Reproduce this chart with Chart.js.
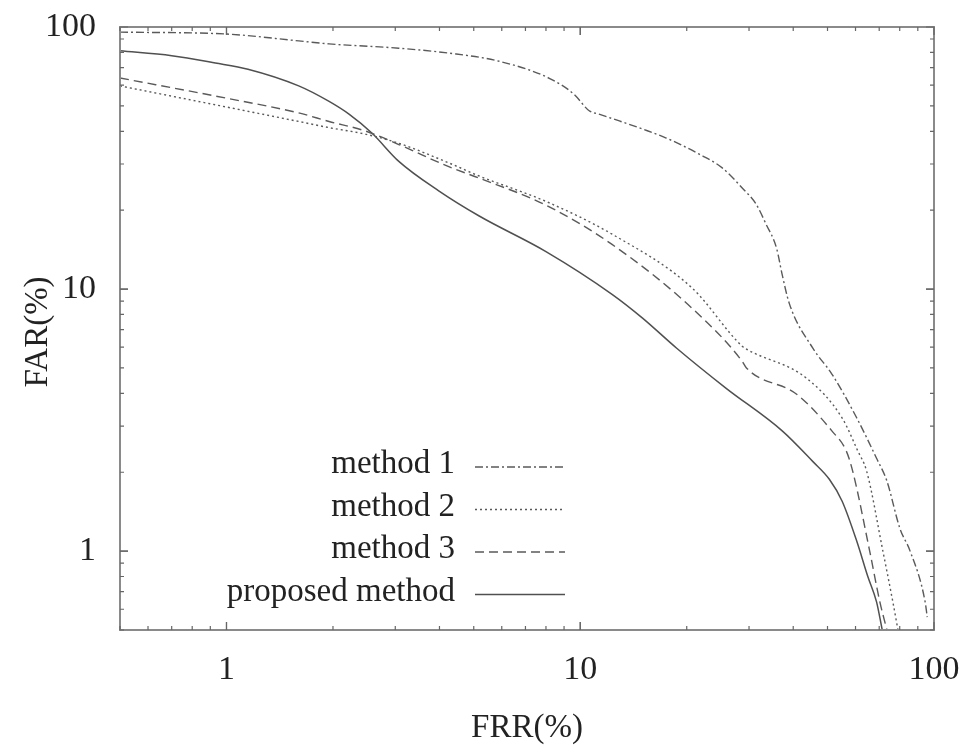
<!DOCTYPE html>
<html>
<head>
<meta charset="utf-8">
<script src="https://cdn.jsdelivr.net/npm/chart.js@4"></script>
<style>
  html, body { margin: 0; padding: 0; background: #fff; }
  #wrap { width: 966px; height: 753px; }
</style>
</head>
<body>
<div id="wrap"><canvas id="myChart" width="966" height="753"></canvas></div>
<script>
// values (FRR %, FAR %)
var m1FRR = [0.5, 1.0, 1.6, 1.95, 3.07, 4.25, 5.9, 8.2, 9.6, 10.6, 11.3, 12.9, 15.0, 17.5, 21.7, 25.2, 28.7, 31.4, 33.5, 35.9, 37.2, 39.0, 45.4, 51.5, 60.5, 68.8, 73.6, 80.1, 85.6, 94.4, 95.7];
var m1FAR = [95.6, 94.0, 88.5, 86.2, 83.0, 79.5, 74.0, 63.6, 55.4, 47.9, 46.5, 43.8, 40.8, 37.7, 32.7, 29.0, 24.3, 21.1, 17.7, 14.3, 11.4, 8.8, 5.96, 4.73, 3.22, 2.26, 1.85, 1.22, 1.0, 0.64, 0.56];

var m2FRR = [0.5, 1.0, 1.6, 1.95, 2.47, 3.07, 4.25, 5.18, 8.0, 12.3, 20.7, 28.7, 29.5, 43.6, 55.0, 60.9, 64.5, 71.7, 76.5, 79.1];
var m2FAR = [59.6, 49.5, 43.6, 41.3, 39.0, 36.0, 30.3, 27.0, 21.6, 16.2, 10.1, 6.05, 5.9, 4.57, 3.22, 2.41, 2.02, 1.0, 0.64, 0.5];

var m3FRR = [0.5, 1.0, 1.6, 1.95, 2.47, 3.07, 4.25, 5.18, 8.0, 12.3, 20.7, 28.7, 29.5, 40.9, 51.5, 56.5, 58.9, 65.8, 70.3, 73.6];
var m3FAR = [63.9, 53.5, 47.0, 43.6, 40.1, 35.6, 29.3, 26.5, 20.9, 14.8, 8.45, 5.3, 5.0, 3.97, 2.87, 2.41, 2.02, 1.0, 0.64, 0.5];

var propFRR = [0.5, 0.7, 0.93, 1.15, 1.6, 1.95, 2.22, 2.58, 3.07, 3.98, 5.18, 8.0, 12.3, 15.0, 18.7, 25.8, 37.3, 45.4, 50.6, 55.0, 60.5, 65.0, 68.8, 71.4];
var propFAR = [81.1, 77.7, 72.9, 69.0, 59.6, 52.0, 46.5, 39.3, 30.7, 23.7, 19.0, 13.9, 9.55, 7.75, 5.96, 4.19, 2.87, 2.2, 1.88, 1.55, 1.09, 0.8, 0.64, 0.5];

var seriesNames = ["method 1", "method 2", "method 3", "proposed method"];
var majorTicks = [1, 10, 100];

function pts(xs, ys) {
  var out = [];
  for (var i = 0; i < xs.length; i++) out.push({x: xs[i], y: ys[i]});
  return out;
}

var lineColor = '#5a5a5a';
var serif = '"Liberation Serif", "DejaVu Serif", serif';

// border, inward ticks, axis titles and legend like the gnuplot original
var framePlugin = {
  id: 'frame',
  afterDatasetsDraw: function(chart) {
    var c = chart.ctx, a = chart.chartArea;
    var xs = chart.scales.x, ys = chart.scales.y;
    c.save();
    c.strokeStyle = '#8a8a8a';
    c.lineWidth = 2;
    c.strokeRect(a.left, a.top, a.right - a.left, a.bottom - a.top);
    c.lineWidth = 1.2;
    c.strokeStyle = '#666';
    var decades = [0.1, 1, 10];
    for (var d = 0; d < decades.length; d++) {
      for (var k = 1; k <= 10; k++) {
        var v = decades[d] * k;
        var len = (k === 1 || k === 10) ? 8 : 4;
        if (v >= 0.5 && v <= 100) {
          var px = xs.getPixelForValue(v);
          c.beginPath();
          c.moveTo(px, a.bottom); c.lineTo(px, a.bottom - len);
          c.moveTo(px, a.top); c.lineTo(px, a.top + len);
          c.stroke();
          var py = ys.getPixelForValue(v);
          c.beginPath();
          c.moveTo(a.left, py); c.lineTo(a.left + len, py);
          c.moveTo(a.right, py); c.lineTo(a.right - len, py);
          c.stroke();
        }
      }
    }
    // titles
    c.fillStyle = '#222';
    c.font = '33px ' + serif;
    c.textAlign = 'center';
    c.textBaseline = 'middle';
    c.fillText('FRR(%)', (a.left + a.right) / 2, 728);
    c.save();
    c.translate(38, 332);
    c.rotate(-Math.PI / 2);
    c.fillText('FAR(%)', 0, 0);
    c.restore();
    // legend
    c.font = '33px ' + serif;
    c.textAlign = 'right';
    c.textBaseline = 'alphabetic';
    var ds = chart.data.datasets;
    for (var i = 0; i < ds.length; i++) {
      var base = 473 + i * 42.5;
      c.fillStyle = '#222';
      c.fillText(ds[i].label, 455, base);
      c.beginPath();
      c.setLineDash(ds[i].borderDash || []);
      c.strokeStyle = ds[i].borderColor;
      c.lineWidth = ds[i].borderWidth;
      c.moveTo(475, base - 6); c.lineTo(565, base - 6);
      c.stroke();
    }
    c.setLineDash([]);
    c.restore();
  }
};

var ctx = document.getElementById('myChart').getContext('2d');
var chart = new Chart(ctx, {
  type: 'line',
  data: {
    datasets: [{
      label: seriesNames[0],
      data: pts(m1FRR, m1FAR),
      borderColor: lineColor, borderWidth: 1.4, borderDash: [8, 3, 2, 3]
    }, {
      label: seriesNames[1],
      data: pts(m2FRR, m2FAR),
      borderColor: lineColor, borderWidth: 1.4, borderDash: [2, 3]
    }, {
      label: seriesNames[2],
      data: pts(m3FRR, m3FAR),
      borderColor: lineColor, borderWidth: 1.4, borderDash: [9, 5]
    }, {
      label: seriesNames[3],
      data: pts(propFRR, propFAR),
      borderColor: '#505050', borderWidth: 1.5
    }]
  },
  options: {
    responsive: false,
    animation: false,
    layout: { padding: { top: 27, right: 32, left: 0, bottom: 0 } },
    elements: {
      point: { radius: 0 },
      line: { cubicInterpolationMode: 'monotone', backgroundColor: 'transparent', fill: false }
    },
    plugins: { legend: { display: false }, tooltip: { enabled: false } },
    scales: {
      x: {
        type: 'logarithmic', min: 0.5, max: 100,
        grid: { display: false, drawTicks: false },
        border: { display: false },
        afterBuildTicks: function(s) { s.ticks = majorTicks.map(function(v) { return {value: v}; }); },
        afterFit: function(s) { s.height = 123; s.paddingLeft = 0; s.paddingRight = 0; },
        ticks: {
          autoSkip: false, maxRotation: 0, padding: 20, color: '#222',
          font: { family: serif, size: 34 },
          callback: function(v) { return String(v); }
        }
      },
      y: {
        type: 'logarithmic', min: 0.5, max: 100,
        grid: { display: false, drawTicks: false },
        border: { display: false },
        afterBuildTicks: function(s) { s.ticks = majorTicks.map(function(v) { return {value: v}; }); },
        afterFit: function(s) { s.width = 120; s.paddingTop = 0; s.paddingBottom = 0; },
        ticks: {
          autoSkip: false, padding: 24, color: '#222',
          font: { family: serif, size: 34 },
          callback: function(v) { return String(v); }
        }
      }
    }
  },
  plugins: [framePlugin]
});
</script>
</body>
</html>
